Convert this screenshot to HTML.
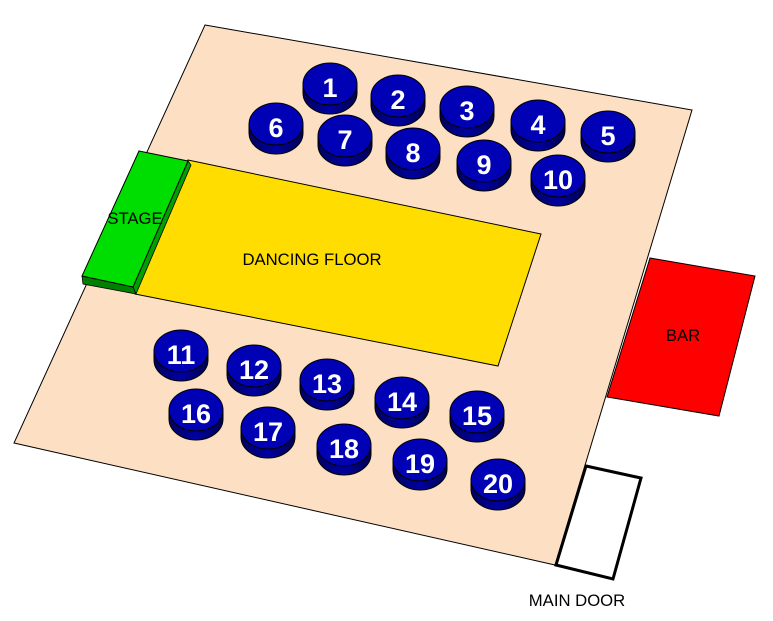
<!DOCTYPE html>
<html><head><style>body{margin:0;background:#fff}svg{display:block}</style></head><body>
<svg width="773" height="621" viewBox="0 0 773 621" xmlns="http://www.w3.org/2000/svg" font-family="Liberation Sans, Arial, sans-serif">
<defs>
<linearGradient id="sh" x1="0" x2="1" y1="0" y2="0"><stop offset="0" stop-color="#000060"/><stop offset="0.5" stop-color="#0000a0"/><stop offset="1" stop-color="#000050"/></linearGradient>
<g id="t"><path d="M-27,0 L-27,9 A27 21 0 0 0 27 9 L27 0 Z" fill="url(#sh)" stroke="#000" stroke-width="1"/><ellipse cx="0" cy="0" rx="27" ry="21" fill="#0000b4" stroke="#000" stroke-width="1"/></g>
</defs>
<polygon points="205,25 692,110 555,565 14,443" fill="#fddfc4" stroke="#000" stroke-width="1"/>
<polygon points="650,258 755,276 719,416 607,397" fill="#ff0000" stroke="#000" stroke-width="1"/>
<polygon points="586,466 641,478 613,579 556,565" fill="#fff" stroke="#000" stroke-width="3"/>
<polygon points="188,160 541,234 498,366 135,294" fill="#ffdd00" stroke="#000" stroke-width="1"/>
<polygon points="188,161 191,165 136,294 133,287" fill="#00a000" stroke="#000" stroke-width="0.8"/>
<polygon points="82,276 83,284 136,294 133,287" fill="#008000" stroke="#000" stroke-width="0.8"/>
<polygon points="139,151 188,161 133,287 82,276" fill="#00dd00" stroke="#000" stroke-width="1"/>
<text x="135" y="224" font-size="16.7" text-anchor="middle">STAGE</text>
<text x="312" y="265" font-size="16.7" text-anchor="middle">DANCING FLOOR</text>
<text x="683" y="341" font-size="16.7" text-anchor="middle">BAR</text>
<text x="577" y="606" font-size="16.7" text-anchor="middle">MAIN DOOR</text>
<g font-size="27" font-weight="bold" fill="#fff" text-anchor="middle">
<use href="#t" x="330" y="84"/><text x="330" y="97">1</text>
<use href="#t" x="398" y="96"/><text x="398" y="109">2</text>
<use href="#t" x="467" y="107"/><text x="467" y="120">3</text>
<use href="#t" x="538" y="121"/><text x="538" y="134">4</text>
<use href="#t" x="608" y="132"/><text x="608" y="145">5</text>
<use href="#t" x="276" y="124"/><text x="276" y="137">6</text>
<use href="#t" x="345" y="136"/><text x="345" y="149">7</text>
<use href="#t" x="413" y="149"/><text x="413" y="162">8</text>
<use href="#t" x="484" y="161"/><text x="484" y="174">9</text>
<use href="#t" x="558" y="176"/><text x="558" y="189">10</text>
<use href="#t" x="181" y="351"/><text x="181" y="364">11</text>
<use href="#t" x="254" y="366"/><text x="254" y="379">12</text>
<use href="#t" x="327" y="380"/><text x="327" y="393">13</text>
<use href="#t" x="402" y="398"/><text x="402" y="411">14</text>
<use href="#t" x="477" y="412"/><text x="477" y="425">15</text>
<use href="#t" x="196" y="410"/><text x="196" y="423">16</text>
<use href="#t" x="268" y="428"/><text x="268" y="441">17</text>
<use href="#t" x="344" y="445"/><text x="344" y="458">18</text>
<use href="#t" x="420" y="460"/><text x="420" y="473">19</text>
<use href="#t" x="498" y="480"/><text x="498" y="493">20</text>
</g>
</svg>
</body></html>
